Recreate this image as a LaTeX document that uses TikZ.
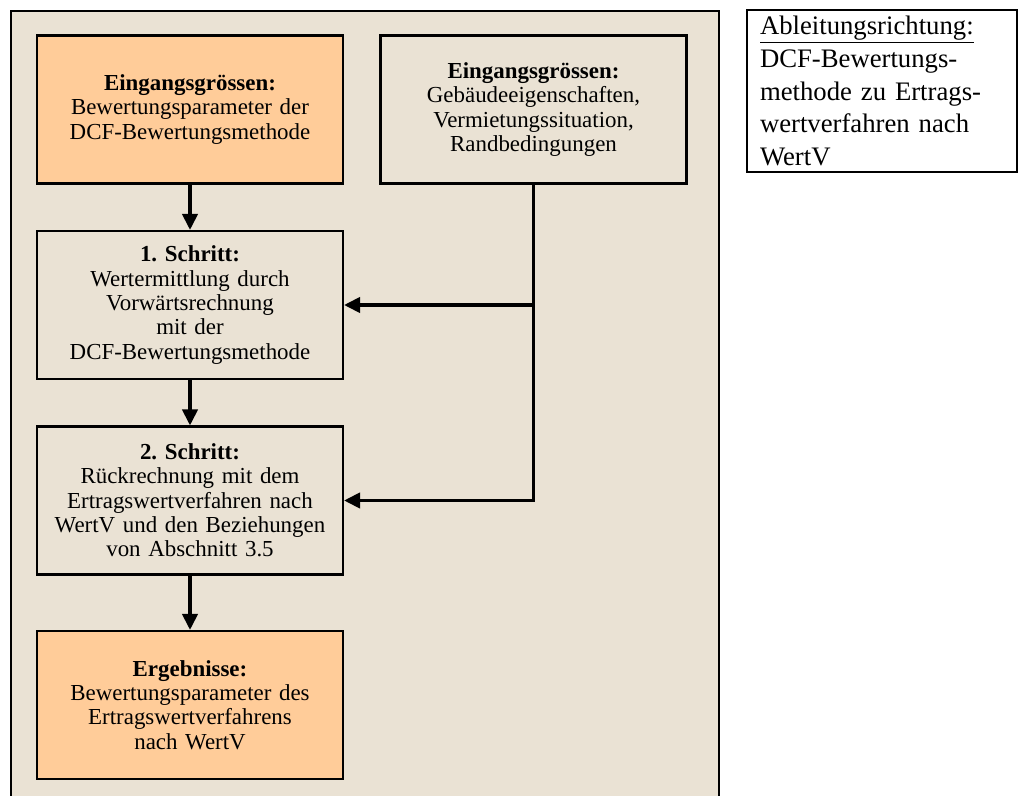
\documentclass[tikz,border=0pt]{standalone}
\usepackage{fontspec}
\setmainfont{Liberation Serif}
\usetikzlibrary{arrows.meta}
\definecolor{beige}{HTML}{EAE2D4}
\definecolor{hellorange}{HTML}{FFCC99}
\frenchspacing
\begin{document}
\begin{tikzpicture}[line width=1.5pt,>={Triangle[length=4mm,width=3.8mm]},
  box/.style={draw,fill=beige,minimum width=7.65cm,minimum height=3.7cm,text width=7.4cm,align=center,inner sep=0pt,font=\fontsize{16.3}{17.3}\selectfont},
  pfeil/.style={->,line width=2.5pt}]

\useasboundingbox (0,0) rectangle (25.45,19.875);

\draw[fill=beige]  (0.275,-0.5)  rectangle  (17.975,19.6);

\node [box,fill=hellorange] (einA) at (4.75,17.1375) {\textbf{Eingangsgrössen:}\\Bewertungsparameter der\\DCF-Bewertungsmethode};
\node [box] (einB) at (13.3375,17.1375) {\textbf{Eingangsgrössen:}\\Gebäudeeigenschaften,\\Vermietungssituation,\\Randbedingungen};

\node [box] (schritt1) at (4.75,12.25) {\textbf{1. Schritt:}\\Wertermittlung durch\\Vorwärtsrechnung\\mit der\\DCF-Bewertungsmethode};
\node [box] (schritt2) at (4.75,7.3625) {\textbf{2. Schritt:}\\Rückrechnung mit dem\\Ertragswertverfahren nach\\WertV und den Beziehungen\\von Abschnitt 3.5};
\node [box,fill=hellorange] (ergebnis) at (4.75,2.25) {\textbf{Ergebnisse:}\\Bewertungsparameter des\\Ertragswertverfahrens\\nach WertV};

\draw[pfeil]  (einA)  --  (schritt1);
\draw[pfeil]  (schritt1)  --  (schritt2);
\draw[pfeil]  (schritt2)  --  (ergebnis);

\draw[pfeil]  (einB.south)  |-  (schritt2.east);
\draw[pfeil]  (einB.south |- schritt1.east)  --  (schritt1.east);

\node [draw,fill=white,minimum height=4.05cm,text width=6.1cm,align=left,inner xsep=0.32cm,inner ysep=0pt,font=\fontsize{19}{23.4}\selectfont] (richtung) at (22.05,17.6) {\underline{Ableitungsrichtung:}\\DCF-Bewertungs-\\methode zu Ertrags-\\wertverfahren nach\\WertV};

\end{tikzpicture}
\end{document}
